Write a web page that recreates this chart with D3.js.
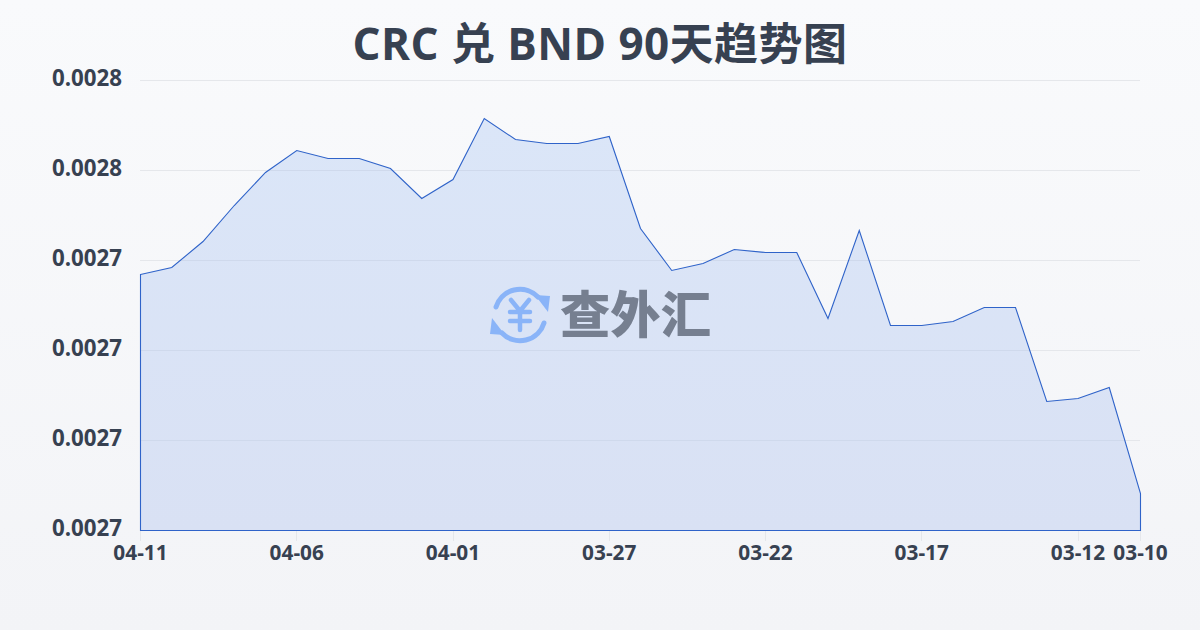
<!DOCTYPE html>
<html><head><meta charset="utf-8">
<script src="https://cdn.jsdelivr.net/npm/d3@7/dist/d3.min.js"></script>
<style>
html,body{margin:0;padding:0;width:1200px;height:630px;overflow:hidden;background:#f6f7f9}
svg{display:block}
text{font-family:"Open Sans","Noto Sans CJK SC",sans-serif}
</style></head><body>
<svg id="c" width="1200" height="630"></svg>
<script>
const titleText = "CRC 兑 BND 90天趋势图";
const watermarkText = "查外汇";
const dates = ["04-11","04-10","04-09","04-08","04-07","04-06","04-05","04-04","04-03","04-02","04-01","03-31","03-30","03-29","03-28","03-27","03-26","03-25","03-24","03-23","03-22","03-21","03-20","03-19","03-18","03-17","03-16","03-15","03-14","03-13","03-12","03-11","03-10"];
const rates = [0.00273689,0.00273844,0.00274422,0.00275222,0.00275956,0.00276444,0.00276267,0.00276267,0.00276044,0.00275378,0.002758,0.00277156,0.00276689,0.002766,0.002766,0.00276756,0.00274711,0.00273778,0.00273933,0.00274244,0.00274178,0.00274178,0.00272711,0.00274667,0.00272556,0.00272556,0.00272644,0.00272956,0.00272956,0.00270867,0.00270933,0.00271178,0.00268822];
const yTicks = [0.00268,0.0027,0.00272,0.00274,0.00276,0.00278];
const xTickLabels = ["04-11","04-06","04-01","03-27","03-22","03-17","03-12","03-10"];

const svg = d3.select("#c");
const defs = svg.append("defs");
const bg = defs.append("linearGradient").attr("id","bg").attr("x1",0).attr("y1",0).attr("x2",0).attr("y2",1);
bg.append("stop").attr("offset",0).attr("stop-color","#f9fafc");
bg.append("stop").attr("offset",1).attr("stop-color","#f3f4f7");
const fg = defs.append("linearGradient").attr("id","fill").attr("gradientUnits","userSpaceOnUse").attr("x1",0).attr("y1",118).attr("x2",0).attr("y2",530);
fg.append("stop").attr("offset",0).attr("stop-color","#dbe6f8");
fg.append("stop").attr("offset",1).attr("stop-color","#d9e1f4");

svg.append("rect").attr("width",1200).attr("height",630).attr("fill","url(#bg)");

const x = d3.scalePoint().domain(dates).range([140.5,1140.5]);
const y = d3.scaleLinear().domain([0.00268,0.00278]).range([530.5,80.5]);
const ink = "#374151";

svg.append("text").attr("x",600).attr("y",60).attr("text-anchor","middle")
  .attr("font-size",44).attr("letter-spacing",0.45).attr("font-weight",700).attr("fill",ink).text(titleText);

// grid
svg.append("g").selectAll("line").data(yTicks).join("line")
  .attr("x1",140).attr("x2",1140).attr("y1",d=>y(d)).attr("y2",d=>y(d))
  .attr("stroke","#e5e7eb").attr("stroke-width",1);

// x ticks
svg.append("g").selectAll("line").data(xTickLabels).join("line")
  .attr("x1",d=>Math.round(x(d)-0.5)+0.5).attr("x2",d=>Math.round(x(d)-0.5)+0.5).attr("y1",530).attr("y2",541)
  .attr("stroke","#e5e7eb");

// area
const area = d3.area().x(d=>x(d.k)).y0(y(0.00268)).y1(d=>y(d.v));
const pts = dates.map((k,i)=>({k,v:rates[i]}));
svg.append("path").datum(pts).attr("d",area).attr("fill","url(#fill)");

// grid shows through the fill
defs.append("clipPath").attr("id","ac").append("path").datum(pts).attr("d",area);
svg.append("g").attr("clip-path","url(#ac)").selectAll("line").data(yTicks.slice(1,5)).join("line")
  .attr("x1",140).attr("x2",1140).attr("y1",d=>y(d)).attr("y2",d=>y(d))
  .attr("stroke","#cfd9ec").attr("stroke-width",1);

svg.append("path").datum(pts).attr("d",area).attr("fill","none").attr("stroke","#2f63c9").attr("stroke-width",1.1);

// y labels
svg.append("g").selectAll("text").data(yTicks).join("text")
  .attr("x",122).attr("y",d=>y(d)+5.5).attr("text-anchor","end")
  .attr("font-size",22.3).attr("font-weight",700).attr("fill",ink).text(d=>d.toFixed(4));

// x labels
svg.append("g").selectAll("text").data(xTickLabels).join("text")
  .attr("x",d=>x(d)).attr("y",560).attr("text-anchor","middle")
  .attr("font-size",20.8).attr("font-weight",700).attr("fill",ink).text(d=>d);

// watermark
const wm = svg.append("g");
const blue = "#8ab4f8";
const logo = wm.append("g").attr("transform","translate(520,315)");
logo.append("path").attr("d","M-24,-8 A25,25 0 0 1 18,-18").attr("fill","none").attr("stroke",blue).attr("stroke-width",5).attr("stroke-linecap","round");
logo.append("path").attr("d","M24,8 A25,25 0 0 1 -18,18").attr("fill","none").attr("stroke",blue).attr("stroke-width",5).attr("stroke-linecap","round");
logo.append("path").attr("d","M15,-20 L30,-19 L28,-3 Z").attr("fill",blue);
logo.append("path").attr("d","M-15,20 L-30,19 L-28,3 Z").attr("fill",blue);
logo.append("path").attr("d","M-9,-15 L0,-4 L9,-15 M-10,-3 H10 M-10,6 H10 M0,-4 V15").attr("fill","none").attr("stroke",blue).attr("stroke-width",4.5).attr("stroke-linecap","round").attr("stroke-linejoin","round");
wm.append("text").attr("x",560).attr("y",333).attr("font-size",50).attr("font-weight",900).attr("fill","#767f90").attr("textLength",151).attr("lengthAdjust","spacingAndGlyphs").text(watermarkText);
</script>
</body></html>
